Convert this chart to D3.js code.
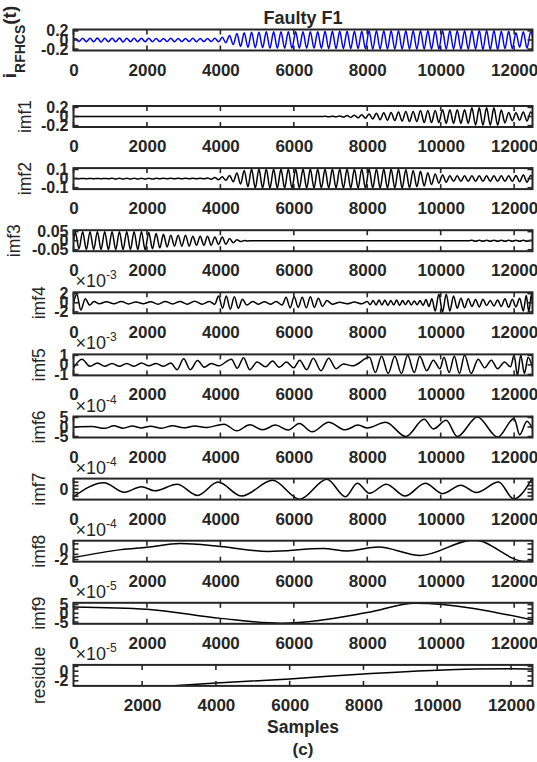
<!DOCTYPE html>
<html><head><meta charset="utf-8">
<script src="https://cdn.jsdelivr.net/npm/d3@7"></script>
<style>body{margin:0;background:#fff;} svg{display:block;}</style>
</head><body><svg id="c" width="537" height="762"></svg>
<script>
// ---------------- DATA ----------------
const titleText = "Faulty F1";
const xLabelText = "Samples";
const captionText = "(c)";
const xTicks = [0, 2000, 4000, 6000, 8000, 10000, 12000];
const residueXTicks = [2000, 4000, 6000, 8000, 10000, 12000];
const sampleDomain = [0, 12500];
const residueSampleDomain = [140, 12582];
const cyclePeriod = 200; // samples per cycle of the 50 Hz component

// amplitude of each 200-sample cycle
const rfhcsAmp = [0.035,0.04,0.04,0.045,0.04,0.04,0.045,0.04,0.04,0.04,0.04,0.035,0.035,0.04,0.035,0.035,0.04,0.035,0.035,0.04,
  0.06,0.1,0.14,0.16,0.17,0.17,0.18,0.18,0.18,0.18,0.18,0.18,0.18,0.18,0.19,0.19,0.19,0.19,0.19,0.19,
  0.2,0.2,0.2,0.2,0.2,0.2,0.2,0.2,0.2,0.2,0.2,0.2,0.2,0.2,0.2,0.21,0.21,0.21,0.19,0.19,0.16,0.18,0.18];
const imf1Amp = [0.002,0.002,0.002,0.002,0.002,0.002,0.002,0.002,0.002,0.002,0.002,0.002,0.002,0.002,0.002,0.002,0.002,0.002,0.002,0.002,
  0.002,0.002,0.002,0.002,0.002,0.002,0.002,0.002,0.002,0.002,0.002,0.002,0.002,0.002,0.004,0.008,0.012,0.02,0.03,0.04,
  0.055,0.07,0.08,0.09,0.1,0.11,0.11,0.13,0.13,0.13,0.15,0.15,0.15,0.15,0.19,0.19,0.19,0.19,0.14,0.09,0.08,0.1,0.1];
const imf2Amp = [0.002,0.002,0.002,0.002,0.002,0.005,0.005,0.005,0.005,0.005,0.005,0.003,0.003,0.003,0.003,0.003,0.003,0.003,0.006,0.012,
  0.02,0.035,0.06,0.09,0.105,0.105,0.105,0.105,0.105,0.105,0.105,0.105,0.105,0.105,0.105,0.105,0.105,0.105,0.105,0.105,
  0.105,0.105,0.105,0.105,0.105,0.1,0.09,0.08,0.065,0.05,0.04,0.03,0.03,0.03,0.03,0.03,0.03,0.03,0.03,0.03,0.035,0.04,0.035];
const imf3Amp = [0.045,0.05,0.05,0.05,0.05,0.05,0.05,0.05,0.05,0.05,0.045,0.04,0.035,0.03,0.03,0.03,0.025,0.025,0.025,0.02,
  0.02,0.012,0.005,0.001,0,0,0,0,0,0,0,0,0,0,0,0,0,0,0,0,
  0,0,0,0,0,0,0,0,0,0,0,0,0,0,0.003,0.003,0.003,0.003,0.003,0.003,0.003,0.003,0.003];

// extrema [sample, value] (values in the panel's exponent units)
const imf4Points = [[0,0],[90,1.8],[200,-1.6],[320,0.9],[440,-0.5],[560,0.3],[700,-0.2],
  [900,0.25],[1100,-0.2],[1300,0.3],[1500,-0.25],[1700,0.2],[1900,-0.2],[2100,0.25],[2300,-0.3],[2500,0.3],[2700,-0.25],[2900,0.3],[3100,-0.3],[3300,0.35],[3500,-0.3],[3700,0.3],[3850,-0.3],
  [3950,1.5],[4060,-1.2],[4160,1.5],[4270,-1.4],[4380,1.3],[4490,-1.2],[4600,0.8],[4720,-0.5],
  [4880,0.3],[5040,-0.3],[5200,0.25],[5360,-0.3],[5520,0.3],[5680,-0.5],
  [5790,1.2],[5900,-1.1],[6010,1.3],[6120,-1.0],[6230,1.2],[6340,-1.1],[6450,1.3],[6560,-1.0],[6670,1.0],[6780,-0.8],[6900,0.5],
  [7050,-0.3],[7250,0.1],[7450,-0.2],[7650,0.15],[7850,-0.2],
  [8000,0.3],[8080,-0.4],[8160,0.5],[8240,-0.5],[8320,0.6],[8400,-0.5],[8480,0.6],[8560,-0.6],[8640,0.5],[8720,-0.5],[8800,0.6],[8880,-0.6],[8960,0.5],[9040,-0.4],[9120,0.5],[9200,-0.5],[9280,0.4],[9360,-0.4],[9440,0.5],[9520,-0.6],[9600,0.7],[9680,-0.8],[9760,0.9],
  [9850,-1.8],[9950,1.9],[10050,-2.0],[10150,1.9],[10250,-1.8],[10350,1.5],
  [10450,-1.2],[10550,1.0],[10650,-1.1],[10750,0.9],[10850,-0.8],[10950,0.7],[11050,-0.9],[11150,0.8],[11250,-0.6],[11350,0.5],[11450,-0.7],[11550,0.6],[11650,-0.8],[11750,0.9],[11850,-1.0],[11950,0.8],[12050,-0.9],[12150,1.0],
  [12250,-1.8],[12330,1.6],[12400,-2.0],[12470,1.8],[12500,0]];
const imf5Points = [[0,-0.3],[230,0.6],[450,-0.15],[650,0.2],[850,-0.15],[1050,0.15],[1250,-0.15],[1450,0.15],[1650,-0.15],[1850,0.2],[2050,-0.1],[2250,0.15],[2450,-0.15],[2650,0.2],
  [2820,-0.5],[3000,0.65],[3180,-0.5],[3380,0.45],[3560,-0.25],[3750,0.15],[3950,-0.1],
  [4300,0.6],[4460,-0.35],[4630,0.75],[4800,-0.5],[5000,0.3],[5230,-0.2],[5420,0.4],[5600,-0.25],[5800,0.3],[6000,-0.3],
  [6160,0.5],[6350,-0.5],[6530,0.7],[6740,-0.6],[6950,0.7],[7150,-0.4],[7350,0.1],[7600,-0.1],
  [8060,0.8],[8220,-0.8],[8390,0.9],[8570,-0.9],[8750,0.9],[8930,-0.9],[9100,1.0],[9280,-0.8],[9430,0.9],[9620,-0.6],[9800,0.5],[9980,-0.4],
  [10090,0.8],[10230,-0.8],[10370,0.9],[10510,-0.9],[10650,1.0],[10830,-0.9],[11020,0.6],[11200,-0.3],[11380,0.5],[11550,-0.4],[11740,0.3],[11900,-0.2],
  [12000,1.0],[12090,-1.1],[12180,1.0],[12280,-0.9],[12380,0.8],[12500,-0.3]];
const imf6Points = [[0,0],[500,0.2],[850,-0.7],[1100,0.6],[1350,-0.6],[1600,0.5],[1850,-0.5],[2100,0.4],[2400,-0.6],[2700,0.7],[3000,-0.4],[3300,0.5],[3600,-0.3],
  [4100,1.5],[4450,-2.0],[4800,1.2],[5150,-1.5],[5500,1.0],[5850,-1.6],[6150,1.8],[6500,-2.5],[6950,2.5],[7400,-1.5],[7750,1.0],[8000,-0.5],
  [8500,2.5],[9050,-5.0],[9550,4.0],[9800,-1.0],[10150,3.5],[10450,-5.0],[11000,5.3],[11550,-5.3],[12000,4.5],[12150,-4.0],[12350,3.0],[12500,-1.0]];
const imf7Points = [[0,-1.1],[830,0.9],[1390,-0.45],[1850,0.35],[2220,-0.25],[2820,0.7],[3380,-0.9],[3935,1.0],[4580,-1.0],[5420,1.25],[6160,-1.45],[6900,1.4],[7410,-1.1],[7730,0.85],[8060,-0.6],[8520,0.7],[9030,-1.0],[9580,0.85],[10050,-0.65],[10550,0.55],[10970,-0.5],[11575,1.0],[11990,-1.4],[12500,1.6]];
const imf8Points = [[0,-1.6],[1300,-0.1],[2000,0.35],[2900,1.05],[4000,0.5],[5300,-0.45],[6800,0.1],[7450,-0.35],[8300,0.4],[9450,-1.2],[10900,1.75],[12300,-2.35],[12500,-2.2]];
const imf9Points = [[0,3.6],[2000,2.3],[4000,-2.9],[5650,-5.7],[8000,0.4],[9300,5.8],[12500,-3.8]];
const residuePoints = [[140,-4.4],[2800,-3.05],[4000,-2.47],[6000,-1.6],[8000,-0.59],[10000,0.21],[12000,0.5],[12582,0.45]];

const panelNames = ["i_RFHCS(t)","imf1","imf2","imf3","imf4","imf5","imf6","imf7","imf8","imf9","residue"];
const panelExponents = [null,null,null,null,"-3","-3","-4","-4","-4","-5","-5"];
const panelYDomains = [[-0.23,0.23],[-0.23,0.23],[-0.115,0.115],[-0.058,0.058],[-2.3,2.3],[-1.1,1.1],[-5.5,5.5],[-1.5,1.5],[-2.4,1.6],[-6,6],[-3.05,1.3]];
const panelYTicks = [[-0.2,0,0.2],[-0.2,0,0.2],[-0.1,0,0.1],[-0.05,0,0.05],[-2,0,2],[-1,0,1],[-5,0,5],[-1,-0.5,0,0.5,1],[-2,-1,0,1],[-5,-2.5,0,2.5,5],[-3,-2,-1,0,1]];
const panelYTickLabels = [["-0.2","0","0.2"],["-0.2","0","0.2"],["-0.1","0","0.1"],["-0.05","0","0.05"],["-2","0","2"],["-1","0","1"],["-5","0","5"],[null,null,"0",null,null],["-2",null,"0",null],["-5",null,"0",null,"5"],[null,"-2",null,"0",null]];

// ---------------- DRAW ----------------
const svg = d3.select("#c");
const L = 73.5, R = 532.5, PH = 21;
const panelTops = [29.5, 106, 168.1, 230.2, 292.3, 354.4, 416.5, 478.6, 540.7, 602.8, 664.9];
const ylabelX = [16, 31, 31, 20, 45, 45, 45, 45, 45, 45, 45];
const ink = "#262626";
const FONT = "'Liberation Sans', Arial, sans-serif";

function cyclePoints(amps){
  const pts = [[0,0]];
  amps.forEach((a,k)=>{ pts.push([k*cyclePeriod + cyclePeriod/4, a]); pts.push([k*cyclePeriod + 3*cyclePeriod/4, -a]); });
  return pts;
}
const panelData = [cyclePoints(rfhcsAmp), cyclePoints(imf1Amp), cyclePoints(imf2Amp), cyclePoints(imf3Amp),
  imf4Points, imf5Points, imf6Points, imf7Points, imf8Points, imf9Points, residuePoints];

panelData.forEach((pts, i) => {
  const top = panelTops[i];
  const isRes = i === 10;
  const x = d3.scaleLinear().domain(isRes ? residueSampleDomain : sampleDomain).range([L, R]);
  const y = d3.scaleLinear().domain(panelYDomains[i]).range([top + PH, top]);
  const g = svg.append("g");
  const cid = "clip" + i;
  svg.append("clipPath").attr("id", cid).append("rect").attr("x", L).attr("y", top).attr("width", R - L).attr("height", PH);

  const line = d3.line().x(d => x(d[0])).y(d => y(d[1])).curve(d3.curveMonotoneX);
  g.append("path").attr("d", line(pts)).attr("clip-path", `url(#${cid})`)
    .attr("fill", "none").attr("stroke", i === 0 ? "#0000ff" : "#000").attr("stroke-width", 1.5).attr("stroke-linejoin", "round");

  const xt = isRes ? residueXTicks : xTicks;
  const tl = 5;
  xt.forEach(v => {
    const px = x(v);
    g.append("line").attr("x1", px).attr("x2", px).attr("y1", top + PH).attr("y2", top + PH - tl).attr("stroke", ink).attr("stroke-width", 1.6);
    g.append("line").attr("x1", px).attr("x2", px).attr("y1", top).attr("y2", top + tl).attr("stroke", ink).attr("stroke-width", 1.6);
  });
  const xa = d3.axisBottom(x).tickValues(xt).tickSize(0).tickPadding(0).tickFormat(d3.format("d"));
  const ax = g.append("g").attr("transform", `translate(0,${top + PH + 25})`).call(xa);
  ax.select(".domain").remove();
  ax.selectAll("text").attr("font-family", FONT).attr("font-weight", "bold")
    .attr("font-size", 17).attr("fill", ink).attr("dy", 0);

  panelYTicks[i].forEach(v => {
    const py = y(v);
    g.append("line").attr("x1", L).attr("x2", L + tl).attr("y1", py).attr("y2", py).attr("stroke", ink).attr("stroke-width", 1.6);
    g.append("line").attr("x1", R).attr("x2", R - tl).attr("y1", py).attr("y2", py).attr("stroke", ink).attr("stroke-width", 1.6);
  });
  panelYTicks[i].forEach((v, j) => {
    const lab = panelYTickLabels[i][j];
    if (lab === null) return;
    g.append("text").attr("x", L - 5).attr("y", y(v)).attr("text-anchor", "end").attr("dominant-baseline", "central")
      .attr("font-family", FONT).attr("font-weight", "bold").attr("font-size", 16)
      .attr("fill", ink).text(lab);
  });

  g.append("rect").attr("x", L).attr("y", top).attr("width", R - L).attr("height", PH)
    .attr("fill", "none").attr("stroke", ink).attr("stroke-width", 2);

  if (panelExponents[i]) {
    const t = g.append("text").attr("x", L + 2).attr("y", top - 5)
      .attr("font-family", FONT).attr("font-size", 18).attr("fill", ink);
    t.append("tspan").text("\u00d710");
    t.append("tspan").attr("font-size", 12).attr("dy", -8).text(panelExponents[i]);
  }

  if (i === 0) {
    const t = svg.append("text").attr("transform", `translate(${ylabelX[i]},42) rotate(-90)`).attr("text-anchor", "middle")
      .attr("font-family", FONT).attr("font-weight", "bold").attr("fill", ink);
    t.append("tspan").attr("font-size", 19).text("i");
    t.append("tspan").attr("font-size", 14).attr("dy", 9).text("RFHCS");
    t.append("tspan").attr("font-size", 19).attr("dy", -9).text("(t)");
  } else {
    svg.append("text").attr("transform", `translate(${ylabelX[i]},${top + PH / 2}) rotate(-90)`).attr("text-anchor", "middle")
      .attr("font-family", FONT).attr("font-size", 17.5).attr("fill", ink).text(panelNames[i]);
  }
});

const cx = (L + R) / 2;
svg.append("text").attr("x", cx).attr("y", 24).attr("text-anchor", "middle").attr("font-family", FONT)
  .attr("font-weight", "bold").attr("font-size", 18).attr("fill", ink).text(titleText);
svg.append("text").attr("x", cx).attr("y", 733).attr("text-anchor", "middle").attr("font-family", FONT)
  .attr("font-weight", "bold").attr("font-size", 17.5).attr("fill", ink).text(xLabelText);
svg.append("text").attr("x", cx).attr("y", 755).attr("text-anchor", "middle").attr("font-family", FONT)
  .attr("font-weight", "bold").attr("font-size", 17).attr("fill", ink).text(captionText);
</script></body></html>
